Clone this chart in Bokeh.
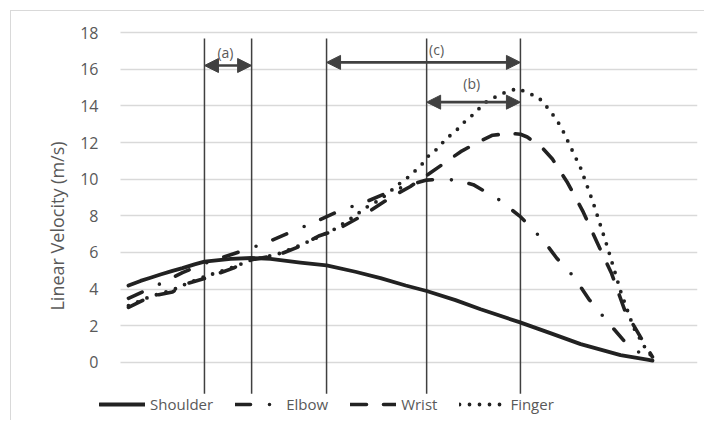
from bokeh.plotting import figure
from bokeh.models import (Range1d, FixedTicker, Arrow, NormalHead, Label, Legend,
                          LegendItem, ColumnDataSource)
from bokeh.embed import file_html
from bokeh.resources import INLINE

# ---------------- data (time in % of movement, velocity in m/s) ----------------
shoulder_t = [0, 2.3, 4.2, 6.1, 8.4, 10.3, 12.6, 14.5, 19.5, 23.5, 27.1, 32.8, 37.8,
              43.3, 48.1, 52.9, 56.9, 62.4, 67.2, 74.6, 80.5, 86.3, 93.9, 99.0, 100]
shoulder_v = [4.2, 4.45, 4.62, 4.8, 5.0, 5.15, 5.35, 5.5, 5.65, 5.7, 5.65, 5.45, 5.3,
              4.95, 4.6, 4.2, 3.9, 3.4, 2.9, 2.2, 1.6, 1.0, 0.4, 0.15, 0.1]

elbow_t = [0, 6.1, 10.3, 14.5, 20.8, 26.0, 30.9, 35.9, 40.5, 45.6, 50.6, 53.8, 56.9,
           59.5, 62.4, 65.8, 70.6, 74.6, 77.1, 79.6, 81.7, 84.9, 88.0, 91.2, 94.8, 97.7, 100]
elbow_v = [3.5, 4.3, 4.9, 5.4, 6.0, 6.5, 7.1, 7.7, 8.3, 8.8, 9.4, 9.7, 9.95,
           10.0, 9.95, 9.7, 8.9, 8.0, 7.3, 6.5, 5.7, 4.7, 3.4, 2.3, 1.1, 0.5, 0.15]

wrist_t = [0, 4.2, 8.4, 11.1, 14.7, 20.0, 23.5, 28.4, 32.8, 36.3, 39.5, 45.2, 50.0,
           53.8, 56.9, 60.9, 63.4, 66.6, 69.5, 72.9, 74.8, 76.1, 79.0, 80.9, 83.8,
           86.8, 89.5, 92.2, 94.7, 98.1, 100]
wrist_v = [3.0, 3.6, 3.85, 4.3, 4.6, 5.15, 5.6, 5.85, 6.35, 6.9, 7.2, 8.1, 9.0,
           9.6, 10.2, 11.0, 11.5, 12.0, 12.4, 12.5, 12.45, 12.3, 11.7, 11.1, 9.8,
           8.2, 6.5, 4.85, 2.85, 1.2, 0.3]

finger_t = [0, 4.2, 8.4, 11.1, 14.7, 20.0, 23.5, 28.4, 32.8, 36.3, 39.5, 42.7, 45.6,
            48.1, 51.9, 53.8, 56.3, 57.6, 59.2, 60.5, 62.0, 63.4, 64.7, 66.2, 67.6,
            69.1, 70.8, 72.5, 74.4, 76.1, 78.1, 79.4, 80.5, 81.7, 82.8, 86.3, 88.7,
            91.4, 93.9, 96.4, 99.0, 100]
finger_v = [3.1, 3.6, 3.95, 4.3, 4.7, 5.2, 5.6, 5.9, 6.4, 6.85, 7.3, 7.9, 8.5,
            8.9, 9.8, 10.2, 10.9, 11.4, 11.7, 12.2, 12.5, 12.9, 13.3, 13.6, 14.1,
            14.35, 14.6, 14.8, 14.95, 14.7, 14.5, 14.1, 13.7, 13.25, 12.7, 10.6, 8.7,
            6.3, 3.9, 1.9, 0.6, 0.3]

event_t = [14.5, 23.5, 37.8, 56.9, 74.8]          # vertical phase markers
phase_labels = ["(a)", "(b)", "(c)"]
y_ticks = [0, 2, 4, 6, 8, 10, 12, 14, 16, 18]
series_names = ["Shoulder", "Elbow", "Wrist", "Finger"]

# ---------------- styles ----------------
TEXT = "#595959"
INK = "#222222"
FONT = "Open Sans"
BORDER = "1px solid #d9d9d9"
line_styles = [dict(line_width=3.8),
               dict(line_width=3.6, line_dash="15 19 0 18"),
               dict(line_width=3.6, line_dash="16 17"),
               dict(line_width=3.8, line_dash="0 10")]

X_MIN, X_MAX = -5.53, 108.59      # visible time window (frame)
GRID_X0 = -1.53                   # where the horizontal gridlines begin

p = figure(width=694, height=410,
           x_range=Range1d(X_MIN, X_MAX), y_range=Range1d(-3.22, 18.11),
           output_backend="svg", toolbar_location=None, x_axis_location=None,
           min_border_left=88, min_border_right=8, min_border_top=19, min_border_bottom=0,
           margin=(10, 0, 0, 10),
           styles={"border-left": BORDER, "border-top": BORDER})
p.outline_line_color = None
p.background_fill_color = "white"
p.border_fill_color = "white"

ticker = FixedTicker(ticks=y_ticks)
p.yaxis.ticker = ticker
p.yaxis.bounds = (y_ticks[0], y_ticks[-1])
p.yaxis.axis_line_color = None
p.yaxis.major_tick_line_color = None
p.yaxis.minor_tick_line_color = None
p.yaxis.major_tick_out = 0
p.yaxis.major_label_standoff = 1
p.yaxis.major_label_text_font = FONT
p.yaxis.major_label_text_font_size = "16px"
p.yaxis.major_label_text_color = TEXT
p.yaxis.axis_label = "Linear Velocity (m/s)"
p.yaxis.axis_label_text_font = FONT
p.yaxis.axis_label_text_font_size = "18px"
p.yaxis.axis_label_text_font_style = "normal"
p.yaxis.axis_label_text_color = TEXT
p.yaxis.axis_label_standoff = 8

p.xgrid.visible = False
p.ygrid.ticker = ticker
p.ygrid.grid_line_color = "#d9d9d9"
p.ygrid.grid_line_width = 1.5
try:
    p.ygrid.cross_bounds = (GRID_X0, X_MAX)
except Exception:
    pass

# vertical phase lines
line_top, line_bottom = 17.68, -1.7
vsrc = ColumnDataSource(dict(x=event_t, y0=[line_bottom] * len(event_t),
                             y1=[line_top] * len(event_t)))
p.segment(x0="x", y0="y0", x1="x", y1="y1", source=vsrc,
          line_color="#404040", line_width=1.5)

# curves
renderers = []
for (t, v), st in zip([(shoulder_t, shoulder_v), (elbow_t, elbow_v),
                       (wrist_t, wrist_v), (finger_t, finger_v)], line_styles):
    renderers.append(p.line(t, v, line_color=INK, line_cap="round", line_join="round", **st))

# phase arrows
ARROW = "#404040"
def head():
    return NormalHead(size=14, fill_color=ARROW, line_color=ARROW, line_width=1)

arrow_specs = [(event_t[0], event_t[1], 16.2),   # (a)
               (event_t[3], event_t[4], 14.2),   # (b)
               (event_t[2], event_t[4], 16.37)]  # (c)
for xs, xe, yy in arrow_specs:
    p.add_layout(Arrow(start=head(), end=head(), x_start=xs, y_start=yy, x_end=xe, y_end=yy,
                       line_color=ARROW, line_width=2.6))

label_pos = [(18.5, 16.9), (65.5, 15.2), (58.8, 17.1)]
for txt, (lx, ly) in zip(phase_labels, label_pos):
    p.add_layout(Label(x=lx, y=ly, text=txt, text_align="center", text_baseline="middle",
                       text_font=FONT, text_font_size="14px", text_color=TEXT))

legend = Legend(items=[LegendItem(label=n, renderers=[r]) for n, r in zip(series_names, renderers)],
                location=(0, 7), orientation="horizontal",
                glyph_width=46, glyph_height=20, label_height=20, label_standoff=5,
                spacing=22, padding=0, margin=0,
                border_line_color=None, background_fill_alpha=0,
                label_text_font=FONT, label_text_font_size="15px", label_text_color=TEXT)
p.add_layout(legend)

open("out.html", "w").write(file_html(p, INLINE))
